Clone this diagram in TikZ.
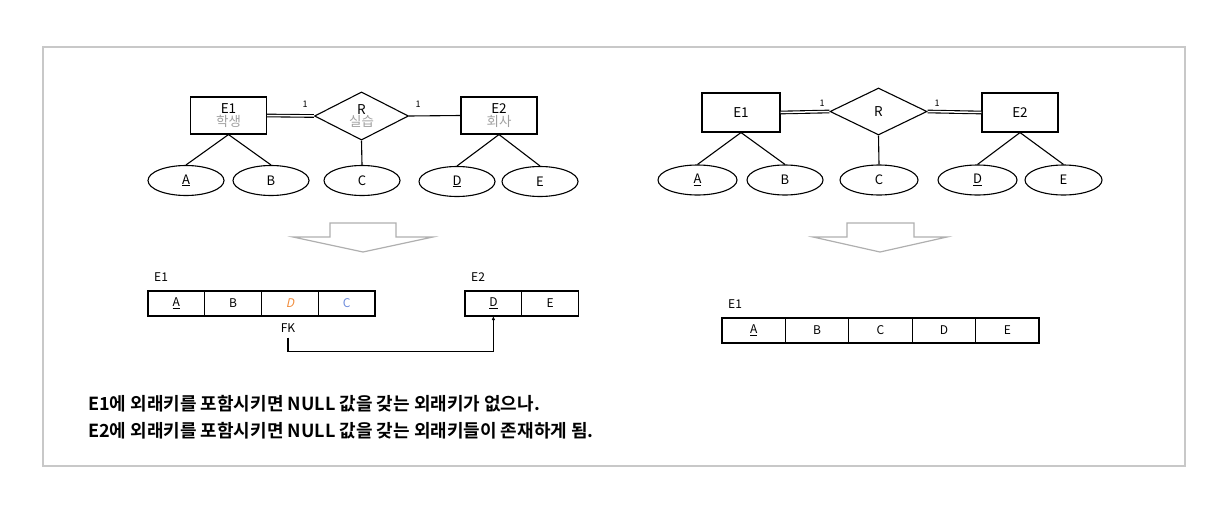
\documentclass[tikz,border=0pt]{standalone}
\usepackage{fontspec}
\setmainfont{Noto Sans CJK KR}
\newfontfamily\boldkr{Noto Sans CJK KR Bold}
\newfontfamily\slantkr[FakeSlant=0.22]{Noto Sans CJK KR}
\usetikzlibrary{shapes.geometric,arrows.meta}
\definecolor{framegray}{RGB}{200,200,200}
\definecolor{arrgray}{RGB}{175,175,175}
\definecolor{subgray}{RGB}{160,160,160}
\definecolor{fkorange}{RGB}{240,140,60}
\definecolor{fkblue}{RGB}{110,140,220}
\tikzset{
  ent/.style={draw, line width=1.1pt, minimum width=76pt, minimum height=37pt, inner sep=0pt, align=center, font=\fontsize{13.5}{13.5}\selectfont},
  rel/.style={draw, diamond, line width=1.1pt, minimum width=94pt, minimum height=46pt, inner sep=0pt, align=center, font=\fontsize{13.5}{13.5}\selectfont},
  attr/.style={draw, ellipse, line width=1.1pt, minimum width=76pt, minimum height=30pt, inner sep=0pt, font=\fontsize{13}{13}\selectfont},
  lnk/.style={line width=1.1pt},
  dbl/.style={line width=1.1pt, double, double distance=1.5pt},
  card/.style={font=\fontsize{9}{9}\selectfont, inner sep=0pt},
  cell/.style={draw, line width=1.1pt, minimum height=25pt, inner sep=0pt, outer sep=0pt, anchor=west, font=\fontsize{12}{12}\selectfont},
  lcell/.style={cell, minimum width=56.75pt},
  rcell/.style={cell, minimum width=63.4pt},
  tlabel/.style={font=\fontsize{12}{12}\selectfont, inner sep=0pt, anchor=west},
  blockarrow/.style={draw=arrgray, line width=1.2pt, line join=miter},
  note/.style={font=\boldkr\fontsize{18}{18}\selectfont, inner sep=0pt, anchor=west}
}
\begin{document}
\begin{tikzpicture}[x=1pt,y=-1pt]
\useasboundingbox (0,0) rectangle (1230,514);
\draw[framegray, line width=2pt] (43,47) rectangle (1185,466);

% ---------- left ER ----------
\node[ent] (le1) at (228.5,115.5) {E1\\[-1pt]\textcolor{subgray}{학생}};
\node[rel] (lr) at (361.5,116) {R\\[-1pt]\textcolor{subgray}{실습}};
\node[ent] (le2) at (499,115.5) {E2\\[-1pt]\textcolor{subgray}{회사}};
\draw[dbl] (le1.east) -- (lr.west);
\draw[lnk] (lr.east) -- (le2.west);
\node[card] (lc1) at (305,104) {1};
\node[card] (lc2) at (418,104) {1};
\node[attr] (la) at (186,180.5) {\underline{A}};
\node[attr] (lb) at (271,180.5) {B};
\node[attr] (lcc) at (362,180.5) {C};
\node[attr] (ld) at (457,181.5) {\underline{D}};
\node[attr] (le) at (540,181.5) {E};
\draw[lnk] (le1.south) -- (la.north);
\draw[lnk] (le1.south) -- (lb.north);
\draw[lnk] (lr.south) -- (lcc.north);
\draw[lnk] (le2.south) -- (ld.north);
\draw[lnk] (le2.south) -- (le.north);

% ---------- right ER ----------
\node[ent, minimum height=39pt, minimum width=78pt] (re1) at (741,112.5) {E1};
\node[rel, minimum width=97pt, minimum height=47pt] (rr) at (878.5,111.5) {R};
\node[ent, minimum height=39pt] (re2) at (1020,112.5) {E2};
\draw[dbl] (re1.east) -- (rr.west);
\draw[dbl] (rr.east) -- (re2.west);
\node[card] (rc1) at (822,103) {1};
\node[card] (rc2) at (937,103) {1};
\node[attr, minimum width=79pt] (ra) at (697.5,180) {\underline{A}};
\node[attr] (rb) at (785,180) {B};
\node[attr, minimum width=78pt] (rcc) at (879,180) {C};
\node[attr, minimum width=79pt] (rd) at (977.5,180) {\underline{D}};
\node[attr, minimum width=77pt] (re) at (1063.5,180) {E};
\draw[lnk] (re1.south) -- (ra.north);
\draw[lnk] (re1.south) -- (rb.north);
\draw[lnk] (rr.south) -- (rcc.north);
\draw[lnk] (re2.south) -- (rd.north);
\draw[lnk] (re2.south) -- (re.north);

% ---------- block arrows ----------
\draw[blockarrow] (330,223) -- (396,223) -- (396,237) -- (433,237) -- (363,252) -- (293,237) -- (330,237) -- cycle;
\draw[blockarrow] (847,223) -- (914,223) -- (914,237) -- (947,237) -- (880,252) -- (813,237) -- (847,237) -- cycle;

% ---------- left tables ----------
\node[tlabel] (lt1) at (154,277) {E1};
\node[lcell] (ta) at (148,303.5) {\underline{A}};
\node[lcell] (tb) at (ta.east) {B};
\node[lcell] (td) at (tb.east) {\textcolor{fkorange}{\slantkr D}};
\node[lcell] (tc) at (td.east) {\textcolor{fkblue}{C}};
\node[tlabel] (lt2) at (471,277) {E2};
\node[lcell] (t2d) at (465,303.5) {\underline{D}};
\node[lcell] (t2e) at (t2d.east) {E};
\node[tlabel, anchor=center] (fk) at (288,328) {FK};
\draw[line width=1.1pt, -{Latex[length=4pt,width=3.5pt]}] (fk.south) ++(0,5) -- ++(0,14) -| (t2d.south);

% ---------- right table ----------
\node[tlabel] (rt1) at (728,304) {E1};
\node[rcell] (sa) at (722,330.5) {\underline{A}};
\node[rcell] (sb) at (sa.east) {B};
\node[rcell] (sc) at (sb.east) {C};
\node[rcell] (sd) at (sc.east) {D};
\node[rcell] (se) at (sd.east) {E};

% ---------- notes ----------
\node[note] (n1) at (88,404) {E1에 외래키를 포함시키면 NULL 값을 갖는 외래키가 없으나.};
\node[note] (n2) at (88,431) {E2에 외래키를 포함시키면 NULL 값을 갖는 외래키들이 존재하게 됨.};
\end{tikzpicture}
\end{document}
